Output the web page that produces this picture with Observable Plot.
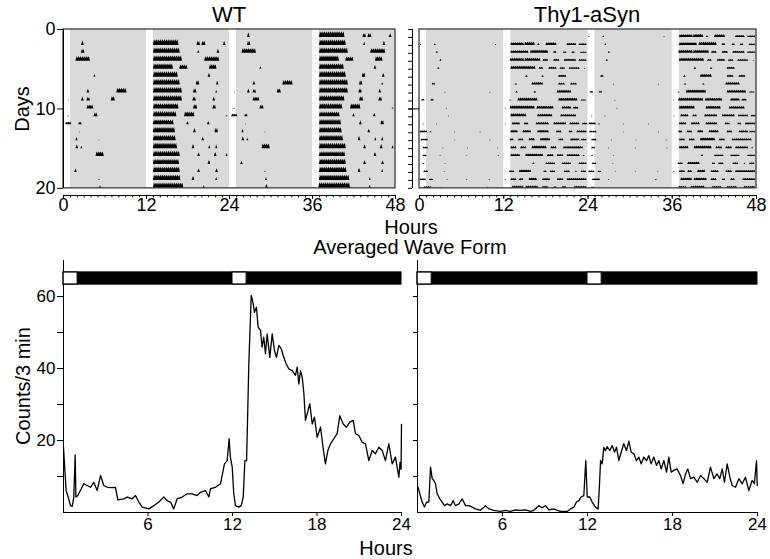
<!DOCTYPE html>
<html><head><meta charset="utf-8">
<script src="https://cdn.jsdelivr.net/npm/d3@7"></script>
<script src="https://cdn.jsdelivr.net/npm/@observablehq/plot@0.6"></script>
<style>
body{margin:0;background:#fff;}
#fig{position:relative;width:770px;height:559px;font-family:"Liberation Sans",Arial,Helvetica,sans-serif;color:#000;overflow:hidden;}
#fig svg{overflow:visible;display:block;}
.lbl{position:absolute;white-space:nowrap;line-height:1;}
</style></head>
<body><div id="fig"></div>
<script>
// ---------- tick labels / titles ----------
const hourTicks = [0, 12, 24, 36, 48];
const dayTicks = [0, 10, 20];
const waveHourTicks = [6, 12, 18, 24];
const countTicks = [10, 20, 30, 40, 50, 60];
const countLabels = [20, 40, 60];
const lightOn = [0, 12];
const lightOff = [1, 13];

// ---------- actogram bouts: per day, [start h, end h, relative height] ----------
const wtDays = [
  [],
  [[2.6,3.0,.6],[13.0,16.7,.75],[19.3,19.8,.5],[20.0,20.6,.5],[23.1,23.5,.5]],
  [[2.6,3.1,.5],[13.0,16.9,.7],[19.4,19.7,.4],[22.2,22.6,.55]],
  [[1.8,3.9,.6],[13.0,17.2,.7],[20.4,22.6,.6]],
  [[13.0,15.9,.7],[16.8,18.0,.55],[21.1,22.2,.6]],
  [[4.4,4.7,.35],[13.0,16.6,.7],[20.9,21.3,.5]],
  [[13.0,16.9,.75],[19.2,19.7,.55],[22.1,22.5,.5]],
  [[3.4,3.8,.5],[7.7,9.2,.6],[13.0,17.2,.75],[18.8,19.3,.55],[22.0,22.3,.3]],
  [[0.7,0.9,.1],[2.6,3.0,.5],[3.4,3.9,.45],[6.9,7.5,.55],[13.0,17.2,.7],[18.7,19.2,.5],[21.6,22.0,.5]],
  [[3.4,4.4,.5],[13.0,16.7,.7],[18.8,19.4,.55],[21.6,22.1,.5]],
  [[0.5,0.9,.1],[4.4,5.0,.5],[13.0,16.4,.7],[17.5,19.0,.65],[23.5,23.8,.15]],
  [[0.3,1.2,.35],[2.2,2.7,.35],[13.0,16.0,.65],[17.8,18.2,.4],[20.8,21.2,.45]],
  [[2.3,2.5,.1],[13.0,16.2,.7],[18.8,19.2,.55],[21.9,22.4,.55]],
  [[1.8,2.1,.45],[5.1,5.3,.1],[13.0,16.3,.7],[20.0,20.4,.45]],
  [[1.8,2.2,.5],[2.5,2.8,.3],[13.0,16.5,.7],[18.6,19.0,.55],[21.0,21.3,.4],[22.0,22.3,.5]],
  [[4.7,5.9,.6],[13.0,16.9,.7],[19.4,19.8,.5],[21.8,22.2,.55],[23.5,23.8,.4]],
  [[13.0,16.8,.65],[20.9,21.3,.55]],
  [[1.6,2.0,.45],[13.0,16.9,.7],[19.4,19.8,.5],[22.0,22.4,.5]],
  [[5.1,5.3,.15],[13.0,17.0,.7],[18.6,19.0,.55],[22.0,22.3,.4]],
  [[5.2,5.5,.35],[13.0,17.4,.7],[20.2,20.5,.35]],
  [[5.2,5.6,.5],[12.9,17.5,.75],[20.2,20.5,.4]]
];
const tgDays = [
  [],
  [[0.1,0.3,.2],[2.1,2.4,.25],[10.8,11.0,.15],[13.0,15.0,.4],[15.0,16.5,.45],[16.8,17.2,.3],[18.0,19.6,.4],[21.0,22.4,.3],[22.7,23.9,.25]],
  [[2.4,2.7,.3],[13.0,15.6,.4],[15.8,18.4,.45],[19.1,19.6,.3],[20.5,21.0,.25],[21.7,22.2,.25],[22.9,23.9,.2]],
  [[2.9,3.2,.3],[12.9,15.0,.45],[15.0,17.3,.45],[17.6,18.4,.3],[19.1,20.0,.3],[20.6,22.4,.3],[22.7,23.9,.25]],
  [[2.6,2.9,.3],[13.0,16.6,.45],[17.0,17.7,.3],[18.4,19.6,.3],[20.0,20.8,.25],[21.3,22.9,.25],[23.5,23.7,.15]],
  [[15.1,15.5,.3],[17.4,17.8,.25],[19.8,21.0,.3]],
  [[1.8,2.3,.3],[13.6,14.0,.25],[16.0,17.7,.4],[19.8,20.8,.3],[21.5,22.5,.3]],
  [[3.6,3.8,.15],[10.0,10.2,.15],[13.7,14.1,.25],[16.3,16.7,.25],[19.6,21.7,.4]],
  [[0.3,0.8,.25],[1.6,2.1,.25],[12.8,13.1,.2],[14.0,16.9,.45],[19.8,22.6,.4],[23.0,23.8,.2]],
  [[3.8,4.0,.15],[12.2,12.4,.15],[12.9,16.5,.45],[16.7,19.2,.4],[20.3,21.7,.35],[21.9,22.7,.3]],
  [[4.1,4.3,.15],[13.0,15.3,.45],[16.8,19.0,.4],[20.1,22.4,.35]],
  [[0.5,0.7,.15],[2.4,2.6,.15],[12.2,12.4,.15],[13.2,14.4,.35],[14.9,15.6,.3],[16.6,18.5,.35],[19.1,21.0,.35],[21.4,22.9,.3],[23.2,24.0,.25]],
  [[0.1,1.2,.3],[1.5,1.8,.2],[5.0,5.2,.15],[8.6,8.8,.15],[13.0,14.1,.35],[14.7,16.0,.35],[16.8,18.5,.35],[19.5,20.3,.3],[21.3,21.9,.3],[22.4,23.9,.3]],
  [[0.2,1.3,.25],[5.0,5.2,.12],[10.0,10.2,.15],[12.9,13.5,.3],[14.1,14.9,.3],[15.6,16.5,.35],[17.2,18.7,.35],[19.8,20.6,.3],[21.5,22.9,.3],[23.0,23.9,.25]],
  [[0.5,1.3,.25],[3.3,3.5,.15],[6.8,7.0,.12],[11.1,11.3,.15],[13.0,13.9,.3],[14.4,15.3,.3],[16.0,18.2,.4],[18.7,19.6,.3],[20.5,23.4,.3]],
  [[0.5,1.1,.25],[2.9,3.1,.15],[6.7,6.9,.12],[11.2,11.4,.15],[13.0,14.4,.35],[15.1,17.7,.4],[18.2,19.2,.3],[19.6,20.6,.3],[21.0,22.9,.3],[23.3,23.6,.2]],
  [[0.5,0.8,.2],[3.6,3.8,.12],[16.1,16.5,.3],[18.0,19.4,.25],[20.3,21.7,.25],[22.7,23.9,.25]],
  [[0.6,1.3,.25],[3.5,3.7,.12],[12.8,13.6,.25],[14.2,16.0,.35],[17.7,18.2,.25],[18.6,19.4,.25],[20.6,21.5,.25],[22.2,22.5,.2],[23.0,23.8,.25]],
  [[0.1,1.0,.25],[1.4,2.0,.2],[3.9,4.1,.12],[6.7,6.9,.12],[9.9,10.1,.12],[12.2,12.4,.15],[13.0,13.9,.3],[14.2,14.9,.3],[15.6,16.8,.35],[17.5,18.7,.3],[19.6,20.6,.3],[21.0,23.9,.3]],
  [[0.6,1.8,.25],[2.9,3.1,.15],[9.6,9.9,.15],[13.2,14.9,.35],[15.1,17.0,.35],[17.5,18.4,.3],[19.1,19.6,.25],[20.3,21.0,.3],[22.0,23.9,.3]],
  [[0.5,1.0,.2],[11.2,11.4,.15],[12.9,14.1,.3],[14.6,16.7,.35],[17.7,19.1,.3],[19.8,21.3,.3],[22.2,23.9,.3]]
];

// ---------- averaged wave forms ----------
const wtHour = [0,0.07,0.19,0.33,0.5,0.62,0.73,0.83,0.88,1.02,1.2,1.44,1.68,1.92,2.15,2.39,2.63,2.86,3.1,3.45,3.69,3.86,4.28,4.52,4.88,5.11,5.35,5.59,6.06,6.41,6.77,7.12,7.36,7.6,7.83,8.07,8.43,8.78,9.14,9.49,9.73,10.08,10.32,10.44,10.79,11.15,11.43,11.62,11.76,11.85,11.98,12.09,12.21,12.45,12.62,12.76,12.88,13.0,13.16,13.33,13.47,13.56,13.7,13.82,13.99,14.1,14.22,14.34,14.46,14.65,14.82,14.98,15.12,15.29,15.46,15.64,15.81,16.0,16.24,16.47,16.59,16.71,16.83,16.95,17.07,17.18,17.3,17.49,17.66,17.82,18.01,18.25,18.44,18.6,18.77,18.96,19.2,19.43,19.62,19.86,20.09,20.33,20.57,20.73,20.97,21.21,21.44,21.68,21.92,22.15,22.39,22.63,22.86,23.1,23.34,23.57,23.81,23.9,23.97,24.0];
const wtCount = [18.1,13.5,6.0,4.3,1.9,1.7,4.3,16.0,4.3,4.7,6.1,8.0,7.5,7.0,8.4,6.1,10.3,7.5,7.0,6.9,7.0,3.5,3.8,4.3,3.8,4.7,2.9,1.5,1.0,1.9,2.9,4.3,3.3,2.9,1.0,3.8,4.3,5.2,5.2,4.7,5.6,6.1,4.3,6.6,7.0,8.0,13.5,14.4,20.5,15.4,12.6,5.2,1.9,1.5,1.9,4.3,14.4,14.4,41.3,60.3,58.0,55.6,57.0,51.5,50.6,45.9,48.7,44.1,49.6,43.1,49.6,45.0,43.1,46.4,45.5,43.1,41.3,39.9,39.4,38.1,40.4,35.7,39.4,37.6,33.0,25.6,27.4,30.2,24.6,26.5,20.9,23.7,17.7,13.5,17.2,19.1,20.5,21.9,26.9,24.6,23.7,25.1,25.6,21.9,21.4,19.5,19.1,14.4,17.2,16.3,18.1,17.2,14.4,19.1,13.5,15.4,9.8,14.0,12.0,24.5];
const tgHour = [0.05,0.16,0.33,0.49,0.64,0.8,0.92,1.04,1.15,1.27,1.39,1.58,1.74,1.91,2.09,2.33,2.52,2.68,2.92,3.15,3.39,3.62,3.86,4.09,4.45,4.8,5.04,5.39,5.86,6.21,6.56,6.92,7.27,7.62,7.98,8.21,8.56,8.8,9.04,9.27,9.62,9.86,10.09,10.56,10.8,11.04,11.22,11.39,11.55,11.74,11.88,11.98,12.16,12.33,12.56,12.75,12.85,12.92,13.04,13.15,13.27,13.39,13.58,13.74,13.91,14.05,14.21,14.38,14.56,14.75,14.92,15.08,15.27,15.46,15.62,15.79,15.98,16.16,16.33,16.49,16.68,16.87,17.04,17.2,17.39,17.58,17.74,17.91,18.09,18.33,18.56,18.75,18.92,19.08,19.27,19.51,19.74,19.98,20.21,20.45,20.68,20.92,21.15,21.34,21.51,21.67,21.86,22.05,22.21,22.45,22.68,22.92,23.15,23.39,23.62,23.78,23.93,23.98];
const tgCount = [7.0,5.2,2.9,1.5,2.9,2.9,12.6,9.4,8.9,8.0,5.2,3.8,2.9,1.9,2.4,1.9,3.3,1.9,2.4,3.8,1.9,1.9,1.5,1.0,0.6,1.9,1.0,0.6,0.3,0.6,0.3,0.7,0.6,0.7,0.3,0.6,1.9,1.3,1.9,0.7,1.0,0.6,0.3,0.3,1.0,1.5,2.9,3.3,4.3,4.7,14.4,4.3,4.3,2.9,1.5,1.0,8.0,14.4,13.5,18.1,17.2,18.3,17.2,18.6,16.8,18.1,14.4,16.8,19.1,17.2,19.8,16.8,16.3,14.4,15.4,13.5,15.4,14.4,15.8,13.5,15.4,13.1,14.4,12.1,14.4,11.2,15.4,11.2,11.7,12.1,10.3,8.0,10.7,12.1,9.4,9.8,8.4,10.3,9.4,8.4,12.6,9.4,10.7,9.4,12.1,8.4,13.5,9.8,7.5,7.0,9.4,8.0,9.8,6.1,8.9,8.0,14.4,7.5];

// ---------- helpers ----------
const FONT = '"Liberation Sans", Arial, Helvetica, sans-serif';
const fig = document.getElementById("fig");
function place(node, left, top) {
  const d = document.createElement("div");
  d.style.position = "absolute"; d.style.left = left + "px"; d.style.top = top + "px";
  d.appendChild(node); fig.appendChild(d);
}
function label(text, x, y, fs, rotate) {
  const d = document.createElement("div");
  d.className = "lbl"; d.textContent = text; d.style.fontSize = fs + "px";
  d.style.left = x + "px";
  if (rotate) { d.style.top = y + "px"; d.style.transform = "translate(-50%,-50%) rotate(-90deg)"; }
  else { d.style.top = (y - 0.8465 * fs) + "px"; d.style.transform = "translateX(-50%)"; }
  fig.appendChild(d);
}
function darkSegments(span) {
  const out = [];
  for (let o = 0; o < span; o += 24)
    lightOn.forEach((on, i) => out.push({x1: lightOff[i] + o, x2: (i + 1 < lightOn.length ? lightOn[i + 1] : 24) + o}));
  return out;
}
function lightSegments() { return lightOn.map((on, i) => ({x1: on, x2: lightOff[i]})); }

// glyph outline of one bout: a row of small peaks (histogram look)
function boutOutline(s, e, peak, base) {
  const pts = [[s, base]];
  const w = e - s;
  if (w <= 0.45) pts.push([(s + e) / 2, base - peak]);
  else {
    const n = Math.max(2, Math.round(w / 0.3));
    const step = w / n;
    for (let k = 0; k < n; k++) {
      const c = s + step * (k + 0.5);
      pts.push([c, base - peak]);
      if (k < n - 1) pts.push([c + step / 2, base - peak * 0.6]);
    }
  }
  pts.push([e, base]);
  return pts;
}

function actogram(days, {width, marginLeft, marginRight, showY, scaleH}) {
  const polys = [];
  days.forEach((bouts, d) => bouts.forEach(([s, e, h], i) => {
    [[d, 0], [d - 1, 24]].forEach(([row, off]) => {
      if (row < 0 || row > 19) return;
      const base = row + 1;
      const id = d + "-" + i + "-" + off;
      boutOutline(s, e, h * scaleH, base).forEach(([x, y]) => polys.push({id, x: x + off, base, y}));
    });
  }));
  const yMax = 20.9;
  const marks = [
    Plot.rect(darkSegments(48), {x1: "x1", x2: "x2", y1: 0, y2: 20, fill: "#dadada"}),
    Plot.area(polys, {x1: "x", y1: "base", y2: "y", z: "id", fill: "black"}),
    Plot.rect([0], {x1: 0, x2: 48, y1: 0, y2: 20, fill: "none", stroke: "#3c3c3c", strokeWidth: 1.3}),
    Plot.ruleY([yMax], {stroke: "black", strokeWidth: 1}),
    Plot.ruleX(d3.range(0, 49), {y1: yMax, y2: yMax + 0.3, stroke: "black"})
  ];
  if (!showY) {
    marks.push(Plot.ruleX([-1], {y1: 0, y2: 20, stroke: "black"}));
    marks.push(Plot.ruleY(d3.range(0, 21), {x1: -1.55, x2: -1, stroke: "black"}));
    marks.push(Plot.ruleY([10], {x1: -1.55, x2: 0, stroke: "black"}));
  } else {
    marks.push(Plot.ruleX([0], {y1: 0, y2: 20, stroke: "black"}));
  }
  return Plot.plot({
    width, height: 215, marginLeft, marginRight, marginTop: 29, marginBottom: 20,
    style: {fontFamily: FONT, fontSize: "18px", background: "transparent", overflow: "visible", color: "black"},
    x: {domain: [0, 48], ticks: hourTicks, tickSize: 4, tickPadding: -1, label: null},
    y: showY
      ? {domain: [0, yMax], reverse: true, ticks: dayTicks, tickSize: 6, tickPadding: 2, label: null}
      : {domain: [0, yMax], reverse: true, axis: null},
    marks
  });
}

function waveform(hours, counts, {width, marginLeft, marginRight, showLabels}) {
  const data = hours.map((h, i) => ({h, c: counts[i]}));
  return Plot.plot({
    width, height: 300, marginLeft, marginRight, marginTop: 20, marginBottom: 28,
    style: {fontFamily: FONT, fontSize: "17px", background: "transparent", overflow: "visible", color: "black"},
    x: {domain: [0, 24], ticks: waveHourTicks, tickSize: 4, tickPadding: 1, label: null},
    y: {domain: [0, 70], ticks: countTicks, tickSize: showLabels ? 6 : 4, tickPadding: 2, label: null,
        tickFormat: d => (showLabels && countLabels.includes(d)) ? String(d) : ""},
    marks: [
      Plot.ruleX([0], {y1: 0, y2: 70, stroke: "black"}),
      Plot.ruleY([0], {x1: 0, x2: 24, stroke: "black"}),
      Plot.rect(darkSegments(24), {x1: "x1", x2: "x2", y1: 63.3, y2: 66.7, fill: "black"}),
      Plot.rect(lightSegments(), {x1: "x1", x2: "x2", y1: 63.3, y2: 66.7, fill: "white", stroke: "black"}),
      Plot.rect([0], {x1: 0, x2: 24, y1: 63.3, y2: 66.7, fill: "none", stroke: "black"}),
      Plot.line(data, {x: "h", y: "c", stroke: "black", strokeWidth: 1.3})
    ]
  });
}

// ---------- assemble ----------
place(actogram(wtDays, {width: 400, marginLeft: 63, marginRight: 5, showY: true, scaleH: 0.95}), 0, 0);
place(actogram(tgDays, {width: 370, marginLeft: 19, marginRight: 14, showY: false, scaleH: 0.85}), 400, 0);
place(waveform(wtHour, wtCount, {width: 405, marginLeft: 63, marginRight: 4, showLabels: true}), 0, 240);
place(waveform(tgHour, tgCount, {width: 365, marginLeft: 12, marginRight: 13, showLabels: false}), 405, 240);

label("WT", 229, 23, 22);
label("Thy1-aSyn", 587, 23, 22);
label("Hours", 411, 234, 20);
label("Averaged Wave Form", 410, 254, 20);
label("Hours", 386, 555, 20);
label("Days", 22, 109, 20, true);
label("Counts/3 min", 23, 386, 20, true);
</script>
</body></html>
